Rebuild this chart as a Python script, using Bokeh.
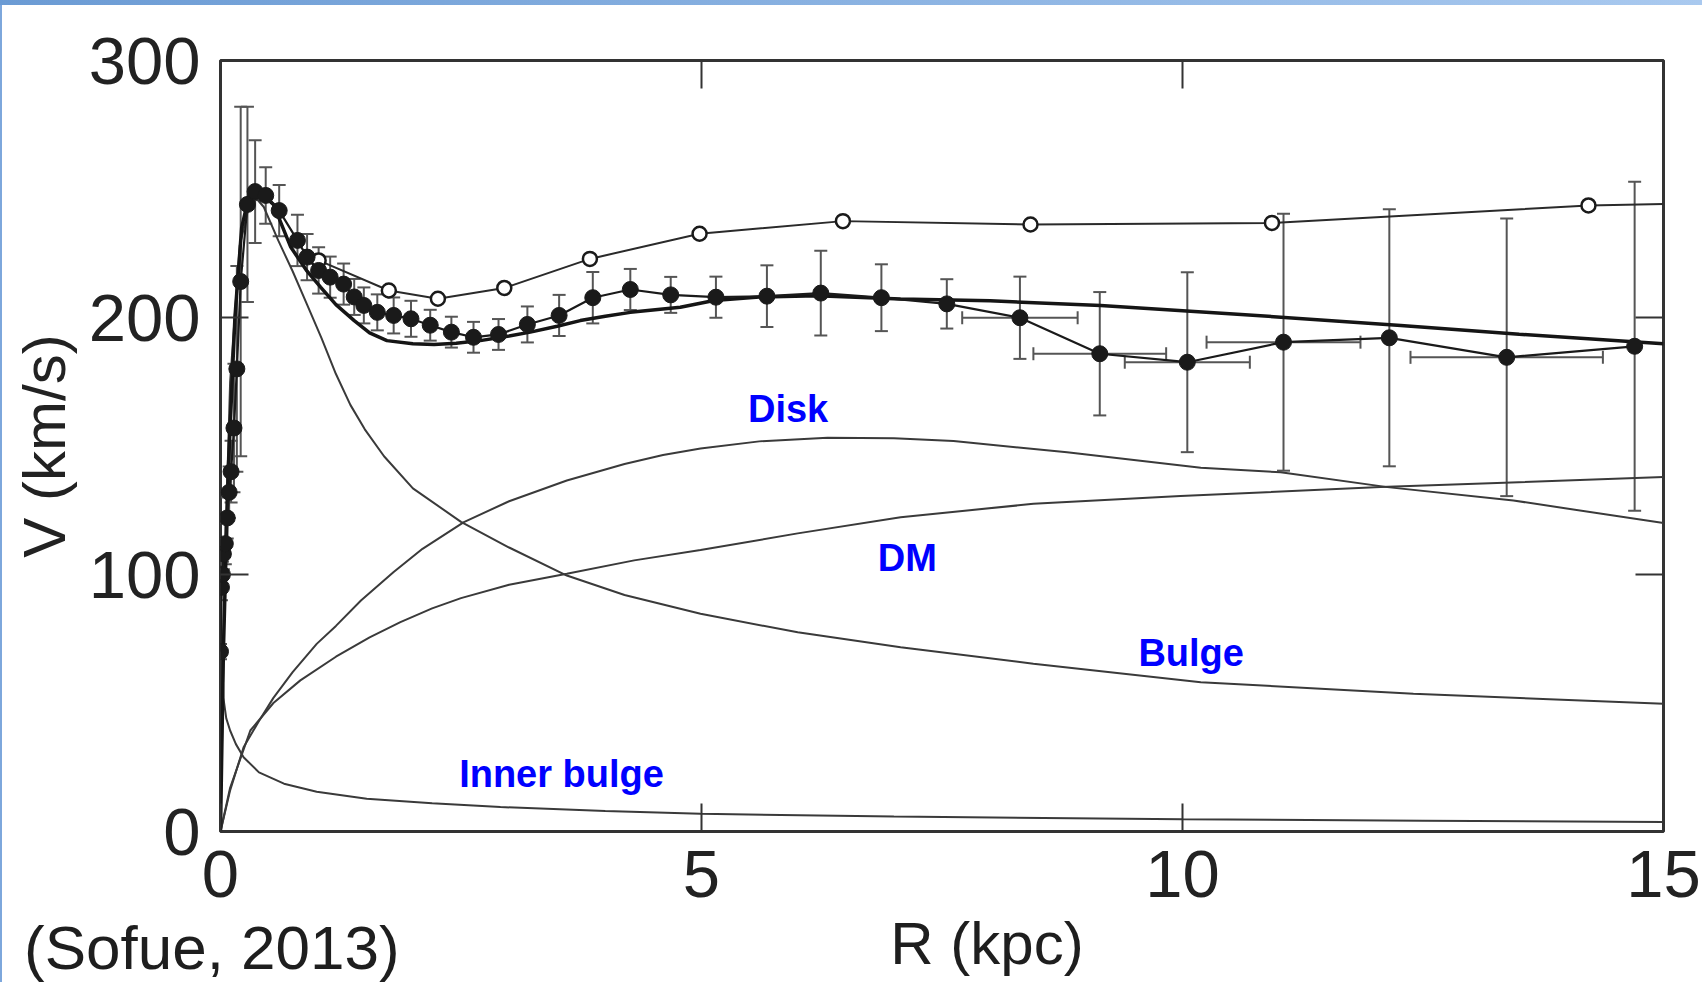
from bokeh.plotting import figure
from bokeh.models import (Range1d, LinearAxis, FixedTicker, ColumnDataSource,
                          Whisker, TeeHead, Label, Div)
from bokeh.layouts import column, row
from bokeh.embed import file_html
from bokeh.resources import INLINE

# ---------------- data ----------------
# observed rotation curve (filled circles)
obs_R = [0.00, 0.01, 0.02, 0.03, 0.05, 0.07, 0.09, 0.11, 0.14, 0.17, 0.21, 0.28, 0.36, 0.47,
         0.61, 0.80, 0.90, 1.02, 1.14, 1.28, 1.39, 1.49, 1.63, 1.80, 1.98, 2.18, 2.40, 2.63,
         2.89, 3.19, 3.52, 3.87, 4.26, 4.68, 5.15, 5.68, 6.24, 6.87, 7.55, 8.31, 9.14, 10.05,
         11.05, 12.15, 13.37, 14.70]
obs_V = [70, 95, 100, 108, 112, 122, 132, 140, 157, 180, 214, 244, 249, 247.5,
         241.6, 230, 223.5, 218.3, 215.7, 213, 208, 204.7, 202, 200.8, 199.5, 197, 194.3, 192.3,
         193.4, 197.3, 200.8, 207.7, 210.9, 208.8, 207.9, 208.3, 209.5, 207.7, 205.3, 199.9, 185.9, 182.6,
         190.4, 192.1, 184.5, 188.8]
obs_dV = [3, 5, 5, 6, 8, 8, 10, 12, 25, 40, 68, 38, 20, 11,
          10, 10, 9, 9, 8, 8, 7, 7, 7, 7, 7, 6, 6, 6,
          6, 7, 8, 10, 8, 7, 8, 12, 16.5, 13, 9.6, 16, 24, 35,
          50, 50, 54, 64]
# horizontal errors (only where drawn)
herr_R = [8.31, 9.14, 10.05, 11.05, 13.37]
herr_V = [199.9, 185.9, 182.6, 190.4, 184.5]
herr_dR = [0.6, 0.69, 0.65, 0.8, 1.0]

# older rotation curve (open circles)
open_R = [1.02, 1.75, 2.26, 2.95, 3.84, 4.98, 6.47, 8.42, 10.93, 14.22]
open_V = [222.2, 210.5, 207.3, 211.5, 222.8, 232.6, 237.5, 236.2, 236.8, 243.6]
open_line_R = open_R + [15.0]
open_line_V = open_V + [244.2]

# model: total
tot_R = [0, 0.03, 0.08, 0.15, 0.22, 0.3, 0.4, 0.55, 0.73, 0.9, 1.04, 1.2, 1.39, 1.55, 1.73,
         2.0, 2.22, 2.45, 2.7, 3.0, 3.22, 3.5, 3.74, 4.0, 4.26, 4.78, 5.13, 5.6, 6.2, 7.07,
         8.0, 9.15, 10.53, 12.27, 13.5, 15.0]
tot_V = [0, 70, 140, 200, 235, 248, 249, 244, 227.4, 218, 211.8, 205, 198.8, 194, 191,
         189.8, 189.5, 190, 191, 192.8, 194.3, 196.6, 198.8, 200.5, 202, 204, 206.6, 208, 208.5, 207.2,
         206.5, 204.7, 201.4, 196.9, 193.5, 189.8]

# components
bulge_R = [0, 0.05, 0.1, 0.2, 0.3, 0.38, 0.45, 0.6, 0.75, 0.9, 1.05, 1.2, 1.35, 1.5, 1.7,
           2.0, 2.5, 3.0, 3.6, 4.2, 4.99, 6.0, 7.07, 8.45, 10.19, 12.4, 15.0]
bulge_V = [0, 110, 175, 228, 244, 246, 243, 230, 218, 205, 192, 178, 166, 156.5, 146,
           133.5, 120.5, 110.5, 99.6, 92, 84.7, 77.5, 71.7, 65.3, 58.1, 53.6, 49.7]

disk_R = [0, 0.1, 0.24, 0.4, 0.55, 0.75, 1.0, 1.2, 1.46, 1.8, 2.1, 2.53, 3.0, 3.6, 4.2,
          4.6, 4.99, 5.6, 6.31, 7.0, 7.62, 8.8, 10.19, 11.02, 12.13, 13.44, 15.0]
disk_V = [0, 16, 32.8, 43, 52, 62, 73, 80, 89.9, 101, 110, 120.4, 128.5, 136.6, 143,
          146.5, 149, 151.8, 153.2, 153, 151.9, 147.6, 141.5, 139.8, 134, 128.8, 120]

dm_R = [0, 0.1, 0.31, 0.55, 0.83, 1.2, 1.55, 1.87, 2.2, 2.5, 3.0, 3.6, 4.3, 4.99, 6.0,
        7.07, 8.45, 9.98, 12.06, 15.0]
dm_V = [0, 17, 39.3, 50, 58.8, 68, 75.5, 81.5, 86.8, 90.8, 96, 100.3, 105.5, 109.5, 116,
        122.3, 127.5, 130.5, 134, 137.9]

inner_R = [0, 0.005, 0.012, 0.03, 0.06, 0.1, 0.16, 0.24, 0.4, 0.66, 1.0, 1.52, 2.2, 2.91,
           4.0, 4.99, 7.0, 10.0, 12.5, 15.0]
inner_V = [0, 100, 80, 52, 44, 39.3, 34, 28.9, 23, 18.6, 15.5, 12.7, 11, 9.5,
           8.0, 6.9, 5.8, 4.8, 4.2, 3.7]

x_ticks = [0, 5, 10, 15]
y_ticks = [0, 100, 200, 300]

comp_labels = ["Disk", "DM", "Bulge", "Inner bulge"]
comp_label_R = [5.90, 7.14, 10.09, 3.545]
comp_label_V = [164.3, 106.6, 69.3, 22.4]

x_title = "R (kpc)"
y_title = "V (km/s)"
citation = "(Sofue, 2013)"

# ---------------- figure ----------------
FONT = "Liberation Sans"
p = figure(width=1700, height=918, x_range=Range1d(0, 15), y_range=Range1d(0, 300),
           output_backend="svg", toolbar_location=None,
           min_border_left=218, min_border_right=39, min_border_top=55, min_border_bottom=92,
           background_fill_color="white", border_fill_color="white")
p.outline_line_color = "#333333"
p.outline_line_width = 3
p.xgrid.grid_line_color = None
p.ygrid.grid_line_color = None


def style_axis(ax, ticks, show_labels, standoff):
    ax.ticker = FixedTicker(ticks=ticks)
    ax.axis_line_color = None
    ax.major_tick_in = 28
    ax.major_tick_out = 0
    ax.major_tick_line_color = "#333333"
    ax.major_tick_line_width = 2
    ax.minor_tick_line_color = None
    ax.major_label_standoff = standoff
    if show_labels:
        ax.major_label_text_font = FONT
        ax.major_label_text_font_size = "67px"
        ax.major_label_text_color = "#222222"
    else:
        ax.major_label_overrides = {t: "" for t in ticks}
        ax.major_label_text_font_size = "2px"


style_axis(p.xaxis[0], x_ticks, True, 19)
style_axis(p.yaxis[0], y_ticks, True, 20)
p.yaxis[0].axis_label = y_title
p.yaxis[0].axis_label_text_font = FONT
p.yaxis[0].axis_label_text_font_size = "60px"
p.yaxis[0].axis_label_text_font_style = "normal"
p.yaxis[0].axis_label_text_color = "#222222"
p.yaxis[0].axis_label_standoff = 8

top_ax = LinearAxis()
right_ax = LinearAxis()
style_axis(top_ax, x_ticks, False, 0)
style_axis(right_ax, y_ticks, False, 0)
p.add_layout(top_ax, "above")
p.add_layout(right_ax, "right")

curve_col = "#3a3a3a"
p.line(bulge_R, bulge_V, line_width=2, color=curve_col)
p.line(disk_R, disk_V, line_width=2, color=curve_col)
p.line(dm_R, dm_V, line_width=2, color=curve_col)
p.line(inner_R, inner_V, line_width=2, color=curve_col)
p.line(tot_R, tot_V, line_width=3.5, color="#151515")

# open circles
p.line(open_line_R, open_line_V, line_width=2, color="#2a2a2a")
p.scatter(open_R, open_V, size=14, marker="circle", fill_color="white",
          line_color="#1a1a1a", line_width=2.5)

# error bars
err_src = ColumnDataSource(dict(
    R=obs_R, up=[v + e for v, e in zip(obs_V, obs_dV)], lo=[v - e for v, e in zip(obs_V, obs_dV)]))
p.add_layout(Whisker(source=err_src, base="R", upper="up", lower="lo", dimension="height",
                     line_color="#555555", line_width=2,
                     upper_head=TeeHead(size=13, line_color="#555555", line_width=2),
                     lower_head=TeeHead(size=13, line_color="#555555", line_width=2)))
herr_src = ColumnDataSource(dict(
    V=herr_V, up=[r + e for r, e in zip(herr_R, herr_dR)], lo=[r - e for r, e in zip(herr_R, herr_dR)]))
p.add_layout(Whisker(source=herr_src, base="V", upper="up", lower="lo", dimension="width",
                     line_color="#555555", line_width=2,
                     upper_head=TeeHead(size=13, line_color="#555555", line_width=2),
                     lower_head=TeeHead(size=13, line_color="#555555", line_width=2)))

# observed points
p.line(obs_R, obs_V, line_width=2.2, color="#1a1a1a")
p.scatter(obs_R, obs_V, size=16, marker="circle", fill_color="#1a1a1a", line_color="#1a1a1a")

# component labels
for t, x, y in zip(comp_labels, comp_label_R, comp_label_V):
    p.add_layout(Label(x=x, y=y, text=t, text_font=FONT, text_font_style="bold",
                       text_font_size="38px", text_color="#0000ff",
                       text_align="center", text_baseline="alphabetic"))

# bottom strip with the x-axis title and the citation
bottom_html = (
    '<div style="position:relative;width:1700px;height:59px;overflow:visible;'
    'font-family:\'Liberation Sans\',Arial,sans-serif;color:#1e1e1e;">'
    '<span style="position:absolute;left:22px;top:-6px;font-size:62px;line-height:62px;'
    'white-space:nowrap;">' + citation + '</span>'
    '<span style="position:absolute;left:985px;top:-9px;transform:translateX(-50%);'
    'font-size:60px;line-height:60px;white-space:nowrap;">' + x_title + '</span>'
    '</div>')
bottom_div = Div(text=bottom_html, width=1700, height=59, margin=0,
                 styles={"overflow": "visible"})

top_bar = Div(text="", width=1702, height=5, margin=0,
              styles={"background": "linear-gradient(to right, #6b9bd4, #a9c9ef)"})
left_line = Div(text="", width=2, height=977, margin=0,
                styles={"background": "#7da7dc"})
layout = column(top_bar, row(left_line, column(p, bottom_div, spacing=0), spacing=0), spacing=0)

open("out.html", "w").write(file_html(layout, INLINE))
